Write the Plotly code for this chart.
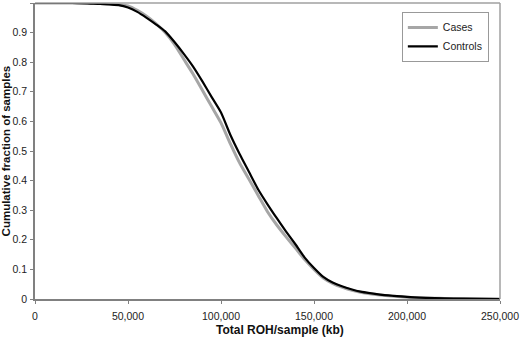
import plotly.graph_objects as go

# Total ROH per sample (kb)
roh_kb = [0, 20000, 30000, 35000, 40000, 45000, 50000, 55000, 60000, 65000, 70000,
          75000, 80000, 85000, 90000, 95000, 100000, 105000, 110000, 115000, 120000,
          125000, 130000, 135000, 140000, 145000, 150000, 155000, 160000, 165000,
          170000, 175000, 180000, 190000, 200000, 210000, 220000, 230000, 250000]

cases = [1.0, 1.0, 0.999, 0.998, 0.997, 0.995, 0.99, 0.975, 0.955, 0.93, 0.9,
         0.86, 0.81, 0.76, 0.705, 0.65, 0.595, 0.525, 0.46, 0.405, 0.35,
         0.295, 0.25, 0.21, 0.172, 0.133, 0.1, 0.071, 0.053, 0.04,
         0.03, 0.023, 0.018, 0.011, 0.006, 0.003, 0.002, 0.001, 0.0]

controls = [1.0, 1.0, 0.998, 0.997, 0.995, 0.993, 0.985, 0.97, 0.95, 0.928, 0.904,
            0.868, 0.828, 0.785, 0.735, 0.682, 0.63, 0.555, 0.49, 0.43, 0.37,
            0.32, 0.273, 0.228, 0.185, 0.14, 0.105, 0.075, 0.056, 0.043,
            0.033, 0.025, 0.02, 0.012, 0.007, 0.004, 0.002, 0.001, 0.0]

x_ticks = [0, 50000, 100000, 150000, 200000, 250000]
x_tick_labels = ["0", "50,000", "100,000", "150,000", "200,000", "250,000"]
y_ticks = [0, 0.1, 0.2, 0.3, 0.4, 0.5, 0.6, 0.7, 0.8, 0.9, 1]
y_tick_labels = ["0", "0.1", "0.2", "0.3", "0.4", "0.5", "0.6", "0.7", "0.8", "0.9", "1"]

x_title = "Total ROH/sample (kb)"
y_title = "Cumulative fraction of samples"

fig = go.Figure()
fig.add_trace(go.Scatter(x=roh_kb, y=cases, mode="lines", name="Cases",
                         line=dict(color="#a6a6a6", width=3, shape="spline", smoothing=0.6)))
fig.add_trace(go.Scatter(x=roh_kb, y=controls, mode="lines", name="Controls",
                         line=dict(color="#000000", width=2.2, shape="spline", smoothing=0.6)))

fig.update_layout(
    width=520, height=340,
    margin=dict(l=35, r=20, t=3, b=41),
    paper_bgcolor="white", plot_bgcolor="white",
    font=dict(family="Liberation Sans, Arial, sans-serif", size=10.5, color="#222"),
    showlegend=True,
    legend=dict(x=0.976, y=0.97, xanchor="right", yanchor="top",
                bordercolor="#999", borderwidth=1, bgcolor="white",
                font=dict(size=10.5), itemwidth=30, tracegroupgap=0),
    xaxis=dict(range=[0, 250000], tickvals=x_ticks, ticktext=x_tick_labels,
               showgrid=False, zeroline=False, showline=True, linecolor="#808080",
               linewidth=1.5, ticks="outside", ticklen=3, tickcolor="#808080",
               ticklabelstandoff=4, automargin=False),
    yaxis=dict(range=[0, 1], tickvals=y_ticks, ticktext=y_tick_labels,
               showgrid=False, zeroline=False, showline=True, linecolor="#808080",
               linewidth=1.5, ticks="outside", ticklen=3, tickcolor="#808080",
               ticklabelstandoff=1, automargin=False),
    annotations=[
        dict(text="<b>" + x_title + "</b>", xref="paper", yref="paper",
             x=0.527, y=-0.105, xanchor="center", yanchor="middle",
             showarrow=False, font=dict(size=12, color="#111")),
        dict(text="<b>" + y_title + "</b>", xref="paper", yref="paper",
             x=-0.0615, y=0.5, xanchor="center", yanchor="middle", textangle=-90,
             showarrow=False, font=dict(size=11.5, color="#111")),
    ],
)
# top and right frame of plot area
fig.add_shape(type="line", xref="paper", yref="paper", x0=0, x1=1, y0=1, y1=1,
              line=dict(color="#a0a0a0", width=1.5))
fig.add_shape(type="line", xref="paper", yref="paper", x0=1, x1=1, y0=0, y1=1,
              line=dict(color="#a0a0a0", width=1.5))

fig.write_html("out.html", config={"displayModeBar": False},
               post_script="document.body.style.margin='0';")
